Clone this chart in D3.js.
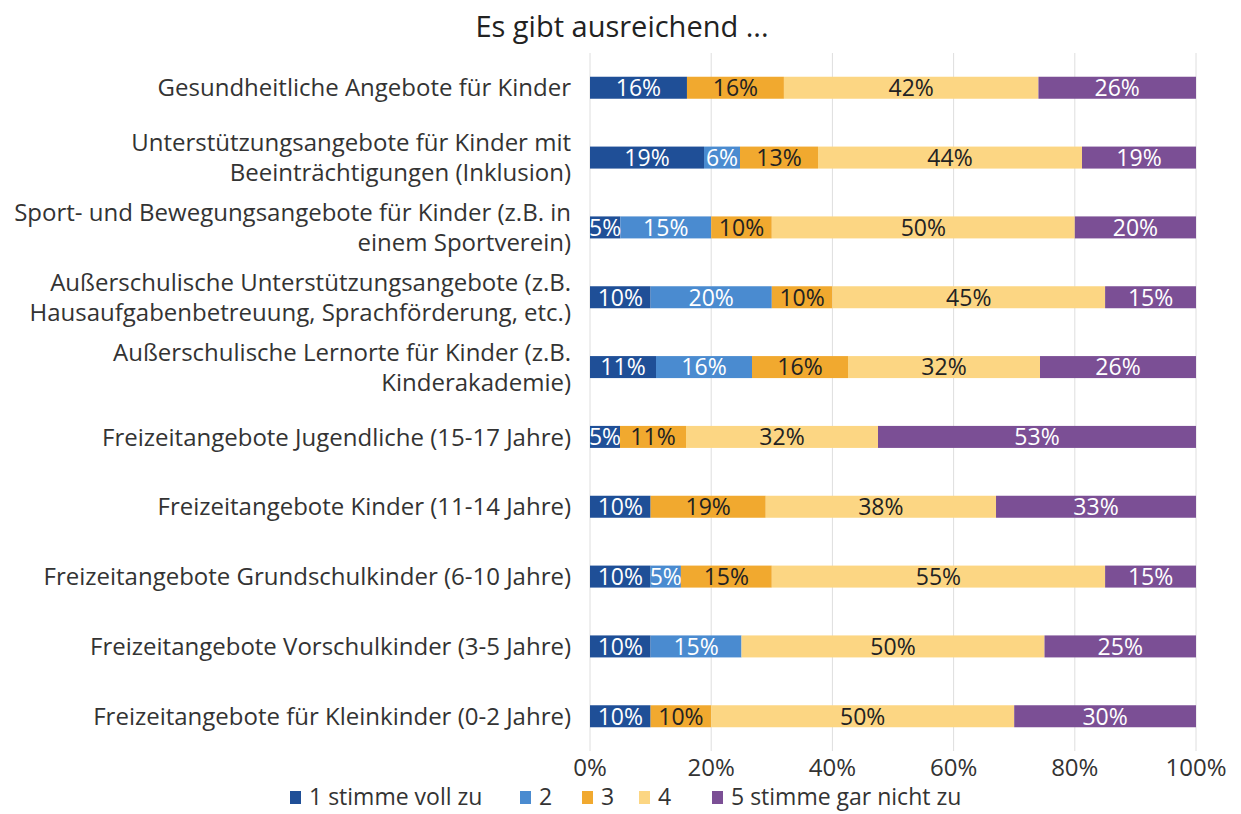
<!DOCTYPE html>
<html>
<head>
<meta charset="utf-8">
<script src="https://cdn.jsdelivr.net/npm/d3@7"></script>
<style>
  body { margin: 0; background: #fff; }
  text { font-family: "Open Sans", sans-serif; }
</style>
</head>
<body>
<script>
let w = 1241;
let h = 814;

// categories, top to bottom (lines split with |)
var categories = [
    "Gesundheitliche Angebote für Kinder",
    "Unterstützungsangebote für Kinder mit|Beeinträchtigungen (Inklusion)",
    "Sport- und Bewegungsangebote für Kinder (z.B. in|einem Sportverein)",
    "Außerschulische Unterstützungsangebote (z.B.|Hausaufgabenbetreuung, Sprachförderung, etc.)",
    "Außerschulische Lernorte für Kinder (z.B.|Kinderakademie)",
    "Freizeitangebote Jugendliche (15-17 Jahre)",
    "Freizeitangebote Kinder (11-14 Jahre)",
    "Freizeitangebote Grundschulkinder (6-10 Jahre)",
    "Freizeitangebote Vorschulkinder (3-5 Jahre)",
    "Freizeitangebote für Kleinkinder (0-2 Jahre)"
];

var seriesNames = ["1 stimme voll zu", "2", "3", "4", "5 stimme gar nicht zu"];
var s1 = [16, 19, 5, 10, 11, 5, 10, 10, 10, 10];
var s2 = [0, 6, 15, 20, 16, 0, 0, 5, 15, 0];
var s3 = [16, 13, 10, 10, 16, 11, 19, 15, 0, 10];
var s4 = [42, 44, 50, 45, 32, 32, 38, 55, 50, 50];
var s5 = [26, 19, 20, 15, 26, 53, 33, 15, 25, 30];
var xTicks = [0, 0.2, 0.4, 0.6, 0.8, 1];

var colors = ["#1f4f97", "#4a8bd0", "#f1a92f", "#fcd683", "#7b4f95"];
var labelColors = ["#ffffff", "#ffffff", "#222222", "#222222", "#ffffff"];

var svg = d3.select("body").append("svg")
    .attr("width", w)
    .attr("height", h);

var x = d3.scaleLinear().domain([0, 1]).range([590, 1196]);
var y = d3.scaleBand().domain(d3.range(categories.length)).range([53, 751]).paddingInner(0.685).paddingOuter(0.34);

// gridlines
svg.selectAll("line.grid").data(xTicks).enter().append("line")
    .attr("class", "grid")
    .attr("x1", d => x(d)).attr("x2", d => x(d))
    .attr("y1", 53).attr("y2", 751)
    .attr("stroke", "#dedede").attr("stroke-width", 1);

// build stacked rows (normalised to 100%)
var series = [s1, s2, s3, s4, s5];
var rows = categories.map((c, i) => {
    let total = d3.sum(series, s => s[i]);
    let acc = 0;
    return series.map((s, k) => {
        let seg = {row: i, k: k, v: s[i], x0: acc / total, x1: (acc + s[i]) / total};
        acc += s[i];
        return seg;
    }).filter(d => d.v > 0);
});
var segs = rows.flat();

svg.selectAll("rect.seg").data(segs).enter().append("rect")
    .attr("class", "seg")
    .attr("x", d => x(d.x0))
    .attr("y", d => y(d.row))
    .attr("width", d => x(d.x1) - x(d.x0))
    .attr("height", y.bandwidth())
    .attr("fill", d => colors[d.k]);

svg.selectAll("text.val").data(segs).enter().append("text")
    .attr("class", "val")
    .attr("x", d => (x(d.x0) + x(d.x1)) / 2)
    .attr("y", d => y(d.row) + y.bandwidth() / 2)
    .attr("dy", "0.36em")
    .attr("text-anchor", "middle")
    .attr("font-size", 23)
    .attr("fill", d => labelColors[d.k])
    .text(d => d.v + "%");

// category labels
var catG = svg.selectAll("text.cat").data(categories).enter().append("text")
    .attr("class", "cat")
    .attr("text-anchor", "end")
    .attr("font-size", 24)
    .attr("fill", "#333");
catG.each(function(d, i) {
    let lines = d.split("|");
    let cy = y(i) + y.bandwidth() / 2;
    let start = cy - (lines.length - 1) * 15;
    lines.forEach((l, j) => {
        d3.select(this).append("tspan")
            .attr("x", 571)
            .attr("y", start + j * 30)
            .attr("dy", "0.36em")
            .text(l);
    });
});

// x axis labels
svg.selectAll("text.tick").data(xTicks).enter().append("text")
    .attr("class", "tick")
    .attr("x", d => x(d))
    .attr("y", 767)
    .attr("dy", "0.36em")
    .attr("text-anchor", "middle")
    .attr("font-size", 24)
    .attr("fill", "#333")
    .text(d => d3.format(".0%")(d));

// title
svg.append("text")
    .attr("x", 622).attr("y", 27)
    .attr("dy", "0.36em")
    .attr("text-anchor", "middle")
    .attr("font-size", 29)
    .attr("fill", "#222")
    .text("Es gibt ausreichend ...");

// legend
var legendX = [290, 520, 582, 639, 712];
var lg = svg.selectAll("g.leg").data(seriesNames).enter().append("g")
    .attr("class", "leg")
    .attr("transform", (d, i) => `translate(${legendX[i]},797)`);
lg.append("rect")
    .attr("x", 0).attr("y", -6)
    .attr("width", 11).attr("height", 13)
    .attr("fill", (d, i) => colors[i]);
lg.append("text")
    .attr("x", 19).attr("y", 0)
    .attr("dy", "0.36em")
    .attr("font-size", 23)
    .attr("fill", "#333")
    .text(d => d);
</script>
</body>
</html>
